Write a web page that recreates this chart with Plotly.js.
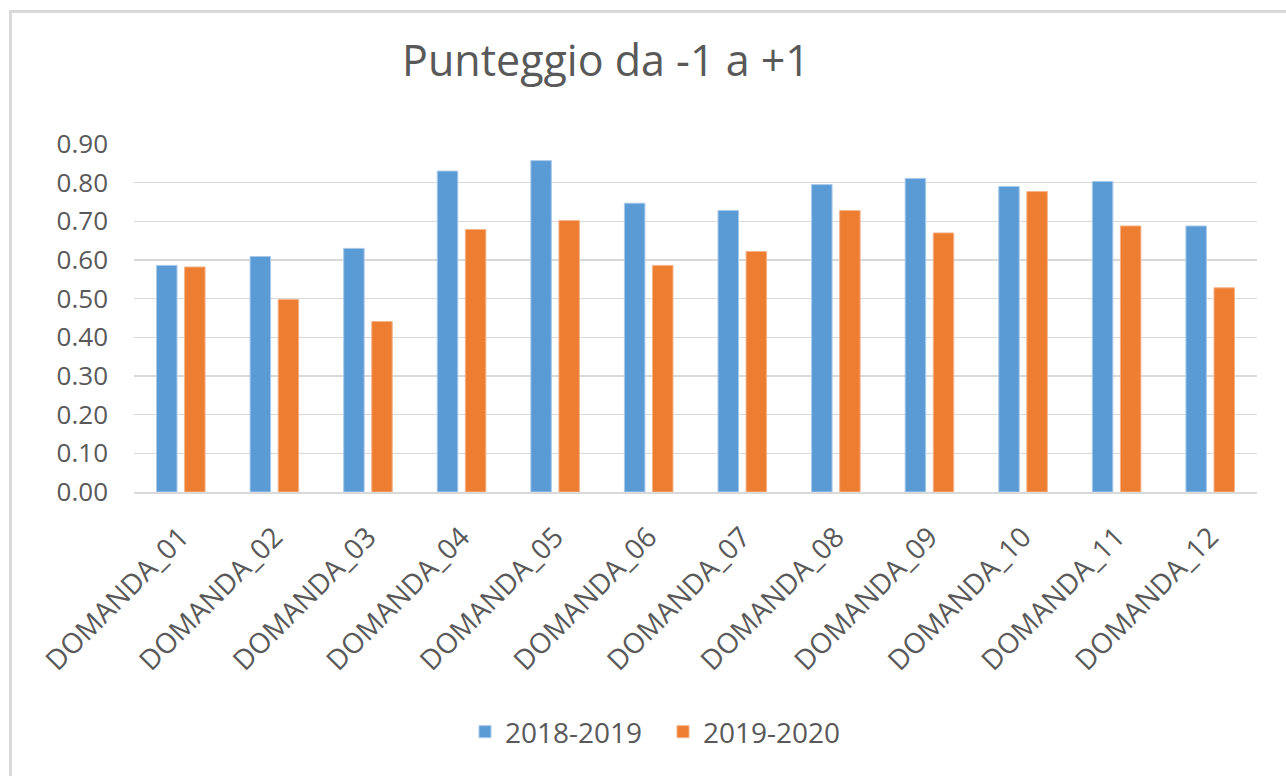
<!DOCTYPE html>
<html>
<head>
<meta charset="utf-8">
<script src="https://cdn.plot.ly/plotly-3.0.1.min.js"></script>
<style>
  html, body { margin: 0; padding: 0; background: #ffffff; }
  #frame { position: absolute; left: 9px; top: 10px; width: 1400px; height: 900px;
           border-left: 3px solid #d9d9d9; border-top: 3px solid #d9d9d9; box-sizing: border-box; }
  #chart { position: absolute; left: 0; top: 0; width: 1286px; height: 776px; }
</style>
</head>
<body>
<div id="frame"></div>
<div id="chart"></div>
<script>
const categories = ["DOMANDA_01","DOMANDA_02","DOMANDA_03","DOMANDA_04","DOMANDA_05","DOMANDA_06",
                    "DOMANDA_07","DOMANDA_08","DOMANDA_09","DOMANDA_10","DOMANDA_11","DOMANDA_12"];
const series2018_2019 = [0.586, 0.609, 0.630, 0.830, 0.857, 0.747, 0.728, 0.795, 0.811, 0.790, 0.803, 0.688];
const series2019_2020 = [0.582, 0.498, 0.441, 0.679, 0.702, 0.586, 0.622, 0.728, 0.670, 0.777, 0.688, 0.528];
const seriesNames = ["2018-2019", "2019-2020"];
const yTicks = [0, 0.1, 0.2, 0.3, 0.4, 0.5, 0.6, 0.7, 0.8, 0.9];

const FONT = '"Open Sans", "Segoe UI", sans-serif';
const TXT = '#595959';

const traces = [
  { type: 'bar', name: seriesNames[0], x: categories, y: series2018_2019,
    marker: { color: '#5B9BD5', line: { color: '#a9c9ea', width: 1 } } },
  { type: 'bar', name: seriesNames[1], x: categories, y: series2019_2020,
    marker: { color: '#ED7D31', line: { color: '#f5b48a', width: 1 } } }
];

const layout = {
  width: 1286, height: 776,
  margin: { l: 134, r: 29, t: 144, b: 284 },
  paper_bgcolor: 'rgba(0,0,0,0)',
  plot_bgcolor: 'rgba(0,0,0,0)',
  font: { family: FONT, color: TXT, size: 26 },
  title: { text: 'Punteggio da -1 a +1', font: { family: FONT, size: 43, color: TXT },
           xref: 'container', x: 606/1286, xanchor: 'center',
           yref: 'container', y: 1 - 61/776, yanchor: 'middle' },
  barmode: 'group', bargap: 0.40, bargroupgap: 0.27,
  xaxis: { type: 'category', tickangle: -45, showgrid: false, zeroline: false,
           showline: true, linecolor: '#d9d9d9', linewidth: 1.5,
           ticks: '', ticklabelstandoff: 16,
           tickfont: { family: FONT, size: 28, color: TXT } },
  yaxis: { range: [0, 0.9], tickvals: yTicks, tickformat: '.2f',
           showgrid: true, gridcolor: '#d9d9d9', gridwidth: 1.5,
           zeroline: false, showline: false, ticks: '', ticklabelstandoff: 25,
           tickfont: { family: FONT, size: 26, color: TXT } },
  showlegend: true,
  legend: { orientation: 'h', xref: 'container', yref: 'container',
            x: 663/1286, xanchor: 'center', y: 1 - 732/776, yanchor: 'middle',
            font: { family: FONT, size: 28, color: TXT }, itemwidth: 30,
            entrywidth: 153, traceorder: 'normal' }
};

Plotly.newPlot('chart', traces, layout, { displayModeBar: false, staticPlot: true });
</script>
</body>
</html>
